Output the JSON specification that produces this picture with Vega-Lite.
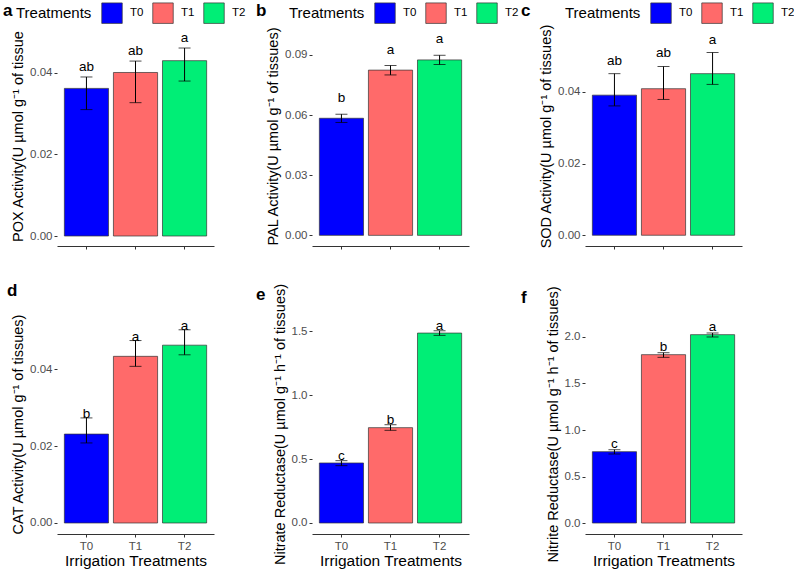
{
  "$schema": "https://vega.github.io/schema/vega-lite/v6.json",
  "background": "white",
  "padding": {"left": 3, "top": 2, "right": 0, "bottom": 0},
  "config": {
    "font": "Liberation Sans",
    "view": {"stroke": null},
    "axis": {"grid": false, "tickColor": "#333333", "tickSize": 3, "domainColor": "#333333", "labelColor": "#4D4D4D", "labelFontSize": 11.5, "titleColor": "black", "titleFontWeight": "normal"},
    "axisY": {"domain": false, "labelPadding": 2, "titleFontSize": 14.5, "titlePadding": 4},
    "axisX": {"labelAngle": 0, "labelPadding": 3, "titleFontSize": 15.5, "titlePadding": 2},
    "title": {"fontSize": 17, "fontWeight": "bold", "color": "black", "anchor": "start", "frame": "group", "baseline": "alphabetic"},
    "legend": {"orient": "none", "direction": "horizontal", "titleOrient": "left", "titleFontSize": 15, "titleFontWeight": "normal", "titleColor": "black", "titlePadding": 9, "labelFontSize": 11.5, "labelColor": "black", "labelOffset": 7, "columnPadding": 7, "symbolType": "square", "symbolSize": 420, "symbolStrokeColor": "#333333", "symbolStrokeWidth": 0.7, "symbolOpacity": 1, "padding": 0, "legendY": -24}
  },
  "datasets": {
    "pox": [
      {"trt": "T0", "mean": 0.0362, "lo": 0.0310, "hi": 0.0390, "sig": "ab"},
      {"trt": "T1", "mean": 0.0401, "lo": 0.0327, "hi": 0.0429, "sig": "ab"},
      {"trt": "T2", "mean": 0.0430, "lo": 0.0380, "hi": 0.0461, "sig": "a"}
    ],
    "pal": [
      {"trt": "T0", "mean": 0.0584, "lo": 0.0563, "hi": 0.0604, "sig": "b"},
      {"trt": "T1", "mean": 0.0824, "lo": 0.0800, "hi": 0.0847, "sig": "a"},
      {"trt": "T2", "mean": 0.0875, "lo": 0.0852, "hi": 0.0898, "sig": "a"}
    ],
    "sod": [
      {"trt": "T0", "mean": 0.0391, "lo": 0.0361, "hi": 0.0451, "sig": "ab"},
      {"trt": "T1", "mean": 0.0409, "lo": 0.0379, "hi": 0.0471, "sig": "ab"},
      {"trt": "T2", "mean": 0.0451, "lo": 0.0421, "hi": 0.0510, "sig": "a"}
    ],
    "cat": [
      {"trt": "T0", "mean": 0.0231, "lo": 0.0208, "hi": 0.0273, "sig": "b"},
      {"trt": "T1", "mean": 0.0433, "lo": 0.0407, "hi": 0.0474, "sig": "a"},
      {"trt": "T2", "mean": 0.0462, "lo": 0.0437, "hi": 0.0502, "sig": "a"}
    ],
    "nr": [
      {"trt": "T0", "mean": 0.469, "lo": 0.448, "hi": 0.487, "sig": "c"},
      {"trt": "T1", "mean": 0.745, "lo": 0.724, "hi": 0.768, "sig": "b"},
      {"trt": "T2", "mean": 1.484, "lo": 1.466, "hi": 1.502, "sig": "a"}
    ],
    "nir": [
      {"trt": "T0", "mean": 0.767, "lo": 0.742, "hi": 0.788, "sig": "c"},
      {"trt": "T1", "mean": 1.810, "lo": 1.781, "hi": 1.831, "sig": "b"},
      {"trt": "T2", "mean": 2.025, "lo": 2.000, "hi": 2.043, "sig": "a"}
    ]
  },
  "vconcat": [
    {
      "hconcat": [
        {
          "width": 157, "height": 220,
          "title": {"text": "a", "dx": -54, "offset": -18},
          "data": {"name": "pox"},
          "encoding": {"x": {"field": "trt", "type": "nominal", "scale": {"paddingInner": 0.1, "paddingOuter": 0.15}, "axis": {"labels": false, "title": null}}},
          "layer": [
            {"mark": {"type": "bar", "stroke": "#333333", "strokeWidth": 0.7},
             "encoding": {
               "y": {"field": "mean", "type": "quantitative", "scale": {"domain": [-0.00245, 0.0515], "nice": false, "zero": false}, "axis": {"values": [0, 0.02, 0.04], "format": ".2f", "title": "POX Activity(U µmol g⁻¹ of tissue"}},
               "y2": {"datum": 0},
               "fill": {"field": "trt", "type": "nominal", "scale": {"domain": ["T0", "T1", "T2"], "range": ["#0000FF", "#FF6A6A", "#00EE76"]}, "legend": {"title": "Treatments", "legendX": -41}}}},
            {"mark": {"type": "rule", "color": "black"}, "encoding": {"y": {"field": "lo", "type": "quantitative"}, "y2": {"field": "hi"}}},
            {"mark": {"type": "tick", "color": "black", "size": 12, "thickness": 1}, "encoding": {"y": {"field": "lo", "type": "quantitative"}}},
            {"mark": {"type": "tick", "color": "black", "size": 12, "thickness": 1}, "encoding": {"y": {"field": "hi", "type": "quantitative"}}},
            {"mark": {"type": "text", "dy": -10, "fontSize": 13.5, "baseline": "middle", "color": "black"}, "encoding": {"y": {"field": "hi", "type": "quantitative"}, "text": {"field": "sig"}}}
          ]
        },
        {
          "hconcat": [
            {
              "width": 157, "height": 220,
              "title": {"text": "b", "dx": -56, "offset": -18},
              "data": {"name": "pal"},
              "encoding": {"x": {"field": "trt", "type": "nominal", "scale": {"paddingInner": 0.1, "paddingOuter": 0.15}, "axis": {"labels": false, "title": null}}},
              "layer": [
                {"mark": {"type": "bar", "stroke": "#333333", "strokeWidth": 0.7},
                 "encoding": {
                   "y": {"field": "mean", "type": "quantitative", "scale": {"domain": [-0.0053, 0.1044], "nice": false, "zero": false}, "axis": {"values": [0, 0.03, 0.06, 0.09], "format": ".2f", "title": "PAL Activity(U µmol g⁻¹ of tissues)"}},
                   "y2": {"datum": 0},
                   "fill": {"field": "trt", "type": "nominal", "scale": {"domain": ["T0", "T1", "T2"], "range": ["#0000FF", "#FF6A6A", "#00EE76"]}, "legend": {"title": "Treatments", "legendX": -23}}}},
                {"mark": {"type": "rule", "color": "black"}, "encoding": {"y": {"field": "lo", "type": "quantitative"}, "y2": {"field": "hi"}}},
                {"mark": {"type": "tick", "color": "black", "size": 12, "thickness": 1}, "encoding": {"y": {"field": "lo", "type": "quantitative"}}},
                {"mark": {"type": "tick", "color": "black", "size": 12, "thickness": 1}, "encoding": {"y": {"field": "hi", "type": "quantitative"}}},
                {"mark": {"type": "text", "dy": -16, "fontSize": 13.5, "baseline": "middle", "color": "black"}, "encoding": {"y": {"field": "hi", "type": "quantitative"}, "text": {"field": "sig"}}}
              ]
            },
            {
              "width": 157, "height": 220,
              "title": {"text": "c", "dx": -64, "offset": -18},
              "data": {"name": "sod"},
              "encoding": {"x": {"field": "trt", "type": "nominal", "scale": {"paddingInner": 0.1, "paddingOuter": 0.15}, "axis": {"labels": false, "title": null}}},
              "layer": [
                {"mark": {"type": "bar", "stroke": "#333333", "strokeWidth": 0.7},
                 "encoding": {
                   "y": {"field": "mean", "type": "quantitative", "scale": {"domain": [-0.003, 0.0584], "nice": false, "zero": false}, "axis": {"values": [0, 0.02, 0.04], "format": ".2f", "title": "SOD Activity(U µmol g⁻¹ of tissues)"}},
                   "y2": {"datum": 0},
                   "fill": {"field": "trt", "type": "nominal", "scale": {"domain": ["T0", "T1", "T2"], "range": ["#0000FF", "#FF6A6A", "#00EE76"]}, "legend": {"title": "Treatments", "legendX": -20}}}},
                {"mark": {"type": "rule", "color": "black"}, "encoding": {"y": {"field": "lo", "type": "quantitative"}, "y2": {"field": "hi"}}},
                {"mark": {"type": "tick", "color": "black", "size": 12, "thickness": 1}, "encoding": {"y": {"field": "lo", "type": "quantitative"}}},
                {"mark": {"type": "tick", "color": "black", "size": 12, "thickness": 1}, "encoding": {"y": {"field": "hi", "type": "quantitative"}}},
                {"mark": {"type": "text", "dy": -13, "fontSize": 13.5, "baseline": "middle", "color": "black"}, "encoding": {"y": {"field": "hi", "type": "quantitative"}, "text": {"field": "sig"}}}
              ]
            }
          ],
          "spacing": 116, "bounds": "flush",
          "resolve": {"scale": {"x": "independent", "y": "independent", "fill": "independent"}, "legend": {"fill": "independent"}}
        }
      ],
      "spacing": 98, "bounds": "flush",
      "resolve": {"scale": {"x": "independent", "y": "independent", "fill": "independent"}, "legend": {"fill": "independent"}}
    },
    {
      "hconcat": [
        {
          "width": 157, "height": 220,
          "title": {"text": "d", "dx": -50, "offset": 14},
          "data": {"name": "cat"},
          "encoding": {"x": {"field": "trt", "type": "nominal", "scale": {"paddingInner": 0.1, "paddingOuter": 0.15}, "axis": {"title": "Irrigation Treatments"}}},
          "layer": [
            {"mark": {"type": "bar", "stroke": "#333333", "strokeWidth": 0.7},
             "encoding": {
               "y": {"field": "mean", "type": "quantitative", "scale": {"domain": [-0.00286, 0.0543], "nice": false, "zero": false}, "axis": {"values": [0, 0.02, 0.04], "format": ".2f", "title": "CAT Activity(U µmol g⁻¹ of tissues)"}},
               "y2": {"datum": 0},
               "fill": {"field": "trt", "type": "nominal", "scale": {"domain": ["T0", "T1", "T2"], "range": ["#0000FF", "#FF6A6A", "#00EE76"]}, "legend": null}}},
            {"mark": {"type": "rule", "color": "black"}, "encoding": {"y": {"field": "lo", "type": "quantitative"}, "y2": {"field": "hi"}}},
            {"mark": {"type": "tick", "color": "black", "size": 12, "thickness": 1}, "encoding": {"y": {"field": "lo", "type": "quantitative"}}},
            {"mark": {"type": "tick", "color": "black", "size": 12, "thickness": 1}, "encoding": {"y": {"field": "hi", "type": "quantitative"}}},
            {"mark": {"type": "text", "dy": -3.5, "fontSize": 13.5, "baseline": "middle", "color": "black"}, "encoding": {"y": {"field": "hi", "type": "quantitative"}, "text": {"field": "sig"}}}
          ]
        },
        {
          "hconcat": [
            {
              "width": 157, "height": 220,
              "title": {"text": "e", "dx": -56, "offset": -21},
              "data": {"name": "nr"},
              "encoding": {"x": {"field": "trt", "type": "nominal", "scale": {"paddingInner": 0.1, "paddingOuter": 0.15}, "axis": {"title": "Irrigation Treatments"}}},
              "layer": [
                {"mark": {"type": "bar", "stroke": "#333333", "strokeWidth": 0.7},
                 "encoding": {
                   "y": {"field": "mean", "type": "quantitative", "scale": {"domain": [-0.086, 1.633], "nice": false, "zero": false}, "axis": {"values": [0, 0.5, 1, 1.5], "format": ".1f", "title": "Nitrate Reductase(U µmol g⁻¹ h⁻¹ of tissues)"}},
                   "y2": {"datum": 0},
                   "fill": {"field": "trt", "type": "nominal", "scale": {"domain": ["T0", "T1", "T2"], "range": ["#0000FF", "#FF6A6A", "#00EE76"]}, "legend": null}}},
                {"mark": {"type": "rule", "color": "black"}, "encoding": {"y": {"field": "lo", "type": "quantitative"}, "y2": {"field": "hi"}}},
                {"mark": {"type": "tick", "color": "black", "size": 12, "thickness": 1}, "encoding": {"y": {"field": "lo", "type": "quantitative"}}},
                {"mark": {"type": "tick", "color": "black", "size": 12, "thickness": 1}, "encoding": {"y": {"field": "hi", "type": "quantitative"}}},
                {"mark": {"type": "text", "dy": -4.5, "fontSize": 13.5, "baseline": "middle", "color": "black"}, "encoding": {"y": {"field": "hi", "type": "quantitative"}, "text": {"field": "sig"}}}
              ]
            },
            {
              "width": 157, "height": 220,
              "title": {"text": "f", "dx": -64, "offset": -21},
              "data": {"name": "nir"},
              "encoding": {"x": {"field": "trt", "type": "nominal", "scale": {"paddingInner": 0.1, "paddingOuter": 0.15}, "axis": {"title": "Irrigation Treatments"}}},
              "layer": [
                {"mark": {"type": "bar", "stroke": "#333333", "strokeWidth": 0.7},
                 "encoding": {
                   "y": {"field": "mean", "type": "quantitative", "scale": {"domain": [-0.118, 2.247], "nice": false, "zero": false}, "axis": {"values": [0, 0.5, 1, 1.5, 2], "format": ".1f", "title": "Nitrite Reductase(U µmol g⁻¹ h⁻¹ of tissues)"}},
                   "y2": {"datum": 0},
                   "fill": {"field": "trt", "type": "nominal", "scale": {"domain": ["T0", "T1", "T2"], "range": ["#0000FF", "#FF6A6A", "#00EE76"]}, "legend": null}}},
                {"mark": {"type": "rule", "color": "black"}, "encoding": {"y": {"field": "lo", "type": "quantitative"}, "y2": {"field": "hi"}}},
                {"mark": {"type": "tick", "color": "black", "size": 12, "thickness": 1}, "encoding": {"y": {"field": "lo", "type": "quantitative"}}},
                {"mark": {"type": "tick", "color": "black", "size": 12, "thickness": 1}, "encoding": {"y": {"field": "hi", "type": "quantitative"}}},
                {"mark": {"type": "text", "dy": -6, "fontSize": 13.5, "baseline": "middle", "color": "black"}, "encoding": {"y": {"field": "hi", "type": "quantitative"}, "text": {"field": "sig"}}}
              ]
            }
          ],
          "spacing": 116, "bounds": "flush",
          "resolve": {"scale": {"x": "independent", "y": "independent", "fill": "independent"}, "legend": {"fill": "independent"}}
        }
      ],
      "spacing": 98, "bounds": "flush",
      "resolve": {"scale": {"x": "independent", "y": "independent", "fill": "independent"}, "legend": {"fill": "independent"}}
    }
  ],
  "spacing": 288, "bounds": "flush",
  "resolve": {"scale": {"x": "independent", "y": "independent", "fill": "independent"}, "legend": {"fill": "independent"}}
}
